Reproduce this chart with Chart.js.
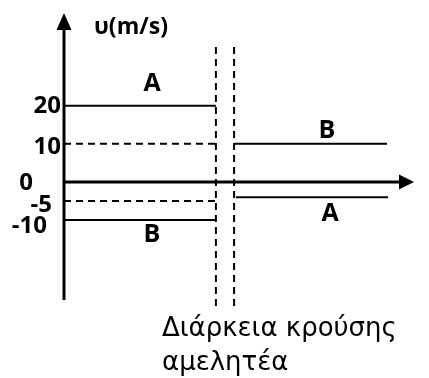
<!DOCTYPE html>
<html>
<head>
<meta charset="utf-8">
<script src="https://cdn.jsdelivr.net/npm/chart.js@4"></script>
<style>
  html, body { margin: 0; padding: 0; background: #fff; }
</style>
</head>
<body>
<canvas id="c" width="429" height="378"></canvas>
<script>
/* velocity of A and B before / after a collision of negligible duration */
const collisionTimes = [43.4, 48.6];      // start, end of the collision (dashed verticals)
const velBefore = [20, -10];              // A, B
const velAfter = [-4, 10];                // A, B
const afterStart = [49.1, 48.6];          // A, B
const afterEnd = [92.6, 92.3];            // A, B
const guideLevels = [10, -5];             // dashed projections onto the v axis
const guideSpan = [35.4, -32.8];          // vertical extent of the collision lines
const tickValues = [20, 10, 0, -5, -10];
const tickLabels = ['20', '10', '0', '-5', '-10'];
const axisFloor = -31;

const solid = (data) => ({
  data, borderColor: '#000', borderWidth: 2, pointRadius: 0, showLine: true, clip: false, tension: 0,
});
const dashed = (data) => ({ ...solid(data), borderDash: [7, 5] });

const datasets = [
  solid([{ x: 0, y: velBefore[0] }, { x: collisionTimes[0], y: velBefore[0] }]),
  solid([{ x: 0, y: velBefore[1] }, { x: collisionTimes[0], y: velBefore[1] }]),
  solid([{ x: afterStart[0], y: velAfter[0] }, { x: afterEnd[0], y: velAfter[0] }]),
  solid([{ x: afterStart[1], y: velAfter[1] }, { x: afterEnd[1], y: velAfter[1] }]),
  ...guideLevels.map(v => dashed([{ x: 0, y: v }, { x: collisionTimes[0], y: v }])),
  ...collisionTimes.map(t => dashed([{ x: t, y: guideSpan[0] }, { x: t, y: guideSpan[1] }])),
];

// pixel nudges for the hand-placed labels of the original
const tickPlace = { '20': [61, 0], '10': [61, 3], '0': [33, 1], '-5': [52, 4], '-10': [47, 6] };

const extras = {
  id: 'extras',
  afterDatasetsDraw(chart) {
    const { ctx, chartArea, scales: { x, y } } = chart;
    const x0 = x.getPixelForValue(0);
    const y0 = y.getPixelForValue(0);
    ctx.save();
    ctx.strokeStyle = '#000';
    ctx.fillStyle = '#000';
    ctx.lineWidth = 3;

    // v axis with arrow
    ctx.beginPath();
    ctx.moveTo(x0, y.getPixelForValue(axisFloor));
    ctx.lineTo(x0, chartArea.top + 14);
    ctx.stroke();
    ctx.beginPath();
    ctx.moveTo(x0, chartArea.top);
    ctx.lineTo(x0 - 7.5, chartArea.top + 17);
    ctx.lineTo(x0 + 7.5, chartArea.top + 17);
    ctx.closePath();
    ctx.fill();

    // t axis with arrow
    ctx.beginPath();
    ctx.moveTo(x0, y0);
    ctx.lineTo(chartArea.right - 12, y0);
    ctx.stroke();
    ctx.beginPath();
    ctx.moveTo(chartArea.right, y0);
    ctx.lineTo(chartArea.right - 15, y0 - 7.5);
    ctx.lineTo(chartArea.right - 15, y0 + 7.5);
    ctx.closePath();
    ctx.fill();

    // tick labels
    ctx.font = "bold 24px 'Open Sans'";
    ctx.textAlign = 'right';
    ctx.textBaseline = 'middle';
    tickValues.forEach((v, i) => {
      const [px, dy] = tickPlace[tickLabels[i]];
      ctx.fillText(tickLabels[i], px, y.getPixelForValue(v) + dy);
    });

    // axis title
    ctx.font = "bold 23px 'Open Sans'";
    ctx.textAlign = 'left';
    ctx.fillText('υ(m/s)', 94, 27);

    // body labels
    ctx.font = "bold 25px 'Open Sans'";
    ctx.textAlign = 'center';
    ctx.fillText('A', 152, 84);
    ctx.fillText('B', 152, 235);
    ctx.fillText('B', 327, 131);
    ctx.fillText('A', 330, 214);

    // note under the collision lines
    ctx.font = "26px 'DejaVu Sans'";
    ctx.textAlign = 'left';
    ctx.textBaseline = 'alphabetic';
    ctx.fillText('Διάρκεια κρούσης', 162, 336);
    ctx.fillText('αμελητέα', 162, 370);
    ctx.restore();
  },
};

new Chart(document.getElementById('c'), {
  type: 'scatter',
  data: { datasets },
  options: {
    responsive: false,
    animation: false,
    devicePixelRatio: 1,
    layout: { padding: { left: 64, right: 15, top: 13, bottom: 70 } },
    plugins: { legend: { display: false }, tooltip: { enabled: false } },
    scales: {
      x: { type: 'linear', min: 0, max: 100, display: false },
      y: { type: 'linear', min: -33.1, max: 44.33, display: false },
    },
  },
  plugins: [extras],
});
</script>
</body>
</html>
